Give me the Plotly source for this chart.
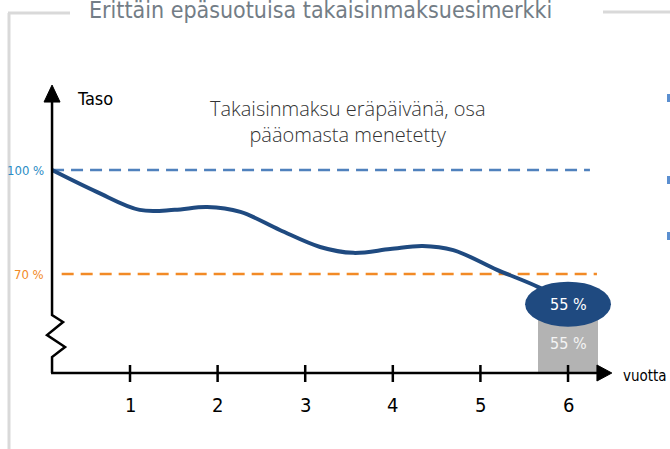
import plotly.graph_objects as go

# ---------------- data ----------------
years = [0.11, 0.62, 1.11, 1.51, 1.88, 2.26, 2.71, 3.17, 3.55, 3.97, 4.34, 4.69, 5.19, 5.68, 6.0]
level = [100, 93.7, 88.5, 88.5, 89.3, 87.9, 82.7, 77.8, 76.1, 77.2, 78.1, 76.9, 71.2, 66.0, 61.3]
tick_years = [1, 2, 3, 4, 5, 6]
tick_labels = ["1", "2", "3", "4", "5", "6"]
ref_levels = [100, 70]
ref_labels = ["100 %", "70 %"]
final_label = "55 %"
title_text = "Erittäin epäsuotuisa takaisinmaksuesimerkki"
note_text = "Takaisinmaksu eräpäivänä, osa<br>pääomasta menetetty"

# ---------------- styling / layout constants ----------------
W, H = 670, 449
XR = [-0.484, 7.164]
YR = [19.53, 149.03]
X_ORIG = 0.11        # y-axis position (years)
Y_FLOOR = 41.45      # x-axis position (level)
px_x = (XR[1] - XR[0]) / W
px_y = (YR[1] - YR[0]) / H

NAVY = "#1f4a80"
BLUE_DASH = "#4f81bd"
ORANGE = "#f28a26"
LBL_BLUE = "#2b8cc4"
GRAY_BOX = "#b3b3b3"
FRAME = "#d9d9d9"
COND = "Liberation Sans Narrow, DejaVu Sans Condensed, Roboto Condensed, Roboto, sans-serif"

fig = go.Figure()

# gray bar under the final value
fig.add_trace(go.Bar(x=[tick_years[-1]], y=[58 - Y_FLOOR], base=[Y_FLOOR], width=[0.68],
                     marker=dict(color=GRAY_BOX, line=dict(width=0)), hoverinfo="skip"))

# reference dashed lines
fig.add_trace(go.Scatter(x=[X_ORIG, 6.25], y=[ref_levels[0]] * 2, mode="lines",
                         line=dict(color=BLUE_DASH, width=2.5, dash="12px,7px"), hoverinfo="skip"))
fig.add_trace(go.Scatter(x=[0.22, 6.33], y=[ref_levels[1]] * 2, mode="lines",
                         line=dict(color=ORANGE, width=2.5, dash="12px,7px"), hoverinfo="skip"))

# main curve
fig.add_trace(go.Scatter(x=years, y=level, mode="lines",
                         line=dict(color=NAVY, width=4, shape="spline", smoothing=1.0),
                         hoverinfo="skip"))

shapes = []
# ellipse at end value
ex, ey = years[-1], level[-1]
shapes.append(dict(type="circle", xref="x", yref="y", x0=ex - 0.49, x1=ex + 0.49,
                   y0=ey - 6.5, y1=ey + 6.5, fillcolor=NAVY, line=dict(width=0), layer="above"))

# y axis line + zigzag
zig = [(X_ORIG, 119.6), (X_ORIG, 58.18), (X_ORIG + 11 * px_x, 56.16), (X_ORIG - 5 * px_x, 52.4),
       (X_ORIG + 13 * px_x, 48.95), (X_ORIG, 46.06), (X_ORIG, Y_FLOOR)]
path = "M " + " L ".join(f"{a},{b}" for a, b in zig)
shapes.append(dict(type="path", xref="x", yref="y", path=path, line=dict(color="black", width=2.5)))
# up arrow head
shapes.append(dict(type="path", xref="x", yref="y",
                   path=f"M {X_ORIG},124.5 L {X_ORIG - 8 * px_x},119.6 L {X_ORIG + 8 * px_x},119.6 Z",
                   fillcolor="black", line=dict(color="black", width=1)))
# x axis line
shapes.append(dict(type="line", xref="x", yref="y", x0=X_ORIG - 1 * px_x, x1=6.35, y0=Y_FLOOR, y1=Y_FLOOR,
                   line=dict(color="black", width=2.5)))
shapes.append(dict(type="path", xref="x", yref="y",
                   path=f"M 6.50,{Y_FLOOR} L 6.33,{Y_FLOOR + 8 * px_y} L 6.33,{Y_FLOOR - 8 * px_y} Z",
                   fillcolor="black", line=dict(color="black", width=1)))
# ticks
for t in tick_years:
    shapes.append(dict(type="line", xref="x", yref="y", x0=t, x1=t, y0=Y_FLOOR + 8 * px_y,
                       y1=Y_FLOOR - 9 * px_y, line=dict(color="black", width=2.5)))

# frame decoration (paper)
def pxp(x, y):
    return x / W, 1 - y / H

for (x0, y0, x1, y1) in [(9, 13, 9, 449), (8, 13, 70, 13), (603, 12, 670, 12)]:
    a, b = pxp(x0, y0)
    c, d = pxp(x1, y1)
    shapes.append(dict(type="line", xref="paper", yref="paper", x0=a, y0=b, x1=c, y1=d,
                       line=dict(color=FRAME, width=3)))
for yc in [98, 180, 236]:
    a, b = pxp(667, yc - 4)
    c, d = pxp(670, yc + 4)
    shapes.append(dict(type="rect", xref="paper", yref="paper", x0=a, y0=b, x1=c, y1=d,
                       fillcolor="#5b8fd0", line=dict(width=0)))

annotations = []
for t, lab in zip(tick_years, tick_labels):
    annotations.append(dict(x=t, y=32.2, xref="x", yref="y", text=lab, showarrow=False,
                            font=dict(family=COND, size=20, color="black")))
annotations.append(dict(x=7.15, y=40.6, xref="x", yref="y", text="vuotta", showarrow=False,
                        xanchor="right", font=dict(family=COND, size=15, color="black")))
annotations.append(dict(x=X_ORIG + 23 * px_x, y=120.5, xref="x", yref="y", text="Taso", showarrow=False,
                        xanchor="left", font=dict(family=COND, size=18, color="black")))
for lv, lab, col in zip(ref_levels, ref_labels, [LBL_BLUE, ORANGE]):
    annotations.append(dict(x=X_ORIG - 6 * px_x, y=lv, xref="x", yref="y", text=lab, showarrow=False,
                            xanchor="right", font=dict(family=COND, size=13, color=col)))
annotations.append(dict(x=3.49, y=114.0, xref="x", yref="y", text=note_text, showarrow=False,
                        font=dict(family="Open Sans", size=20, color="#333333", weight=300)))
annotations.append(dict(x=ex, y=ey, xref="x", yref="y", text=final_label, showarrow=False,
                        font=dict(family=COND, size=16, color="white")))
annotations.append(dict(x=tick_years[-1], y=50.1, xref="x", yref="y", text=final_label, showarrow=False,
                        font=dict(family=COND, size=16, color="#f4f4f4")))
annotations.append(dict(x=320 / W, y=1 - 10 / H, xref="paper", yref="paper", text=title_text,
                        showarrow=False, yanchor="middle",
                        font=dict(family=COND, size=23, color="#737d86")))

fig.update_layout(
    width=W, height=H, margin=dict(l=0, r=0, t=0, b=0),
    paper_bgcolor="white", plot_bgcolor="white", showlegend=False,
    xaxis=dict(range=XR, visible=False, fixedrange=True),
    yaxis=dict(range=YR, visible=False, fixedrange=True),
    shapes=shapes, annotations=annotations, bargap=0,
)
fig.write_html("out.html", config={"displayModeBar": False},
               post_script="document.body.style.margin='0px';")
